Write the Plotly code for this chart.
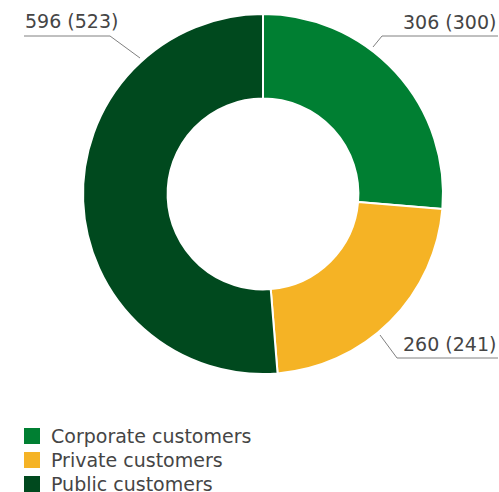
import plotly.graph_objects as go

# Segment data: current year values with previous year in brackets
categories = ["Corporate customers", "Private customers", "Public customers"]
values = [306, 260, 596]
previous = [300, 241, 523]
colors = ["#007f32", "#f5b325", "#00491e"]

W, H = 499, 492
FONT = "DejaVu Sans"
TEXT_COLOR = "#454545"
FONT_SIZE = 19


def px(x):
    return x / W


def py(y):
    return 1 - y / H


fig = go.Figure()

fig.add_trace(go.Pie(
    labels=categories,
    values=values,
    marker=dict(colors=colors, line=dict(color="white", width=2)),
    hole=0.53,
    sort=False,
    direction="clockwise",
    rotation=0,
    textinfo="none",
    hoverinfo="label+value",
    showlegend=False,
    domain=dict(x=[px(263 - 180), px(263 + 180)], y=[py(374), py(14)]),
))

labels = [f"{v} ({p})" for v, p in zip(values, previous)]

# Label placement and leader lines (pixel coordinates)
label_specs = [
    (498, 22, "right", [(373, 47), (382, 36), (498, 36)]),
    (498, 344, "right", [(380, 335), (397, 358), (498, 358)]),
    (23, 21, "left", [(140, 58), (110, 36), (24, 36)]),
]

for text, (tx, ty, anchor, pts) in zip(labels, label_specs):
    fig.add_annotation(
        x=px(tx), y=py(ty), xref="paper", yref="paper",
        text=text, showarrow=False, xanchor=anchor, yanchor="middle",
        font=dict(family=FONT, size=FONT_SIZE, color=TEXT_COLOR),
    )
    path = "M " + " L ".join(f"{px(x)},{py(y)}" for x, y in pts)
    fig.add_shape(type="path", path=path, xref="paper", yref="paper",
                  line=dict(color="#808080", width=1))

# Legend: square swatch plus category name per row
for i, (name, col) in enumerate(zip(categories, colors)):
    top = 428 + 24 * i
    fig.add_shape(type="rect", xref="paper", yref="paper",
                  x0=px(24), x1=px(40), y0=py(top), y1=py(top + 16),
                  fillcolor=col, line=dict(width=0))
    fig.add_annotation(
        x=px(49), y=py(top + 8), xref="paper", yref="paper",
        text=name, showarrow=False, xanchor="left", yanchor="middle",
        font=dict(family=FONT, size=FONT_SIZE, color=TEXT_COLOR),
    )

fig.update_layout(
    width=W, height=H,
    margin=dict(l=0, r=0, t=0, b=0),
    paper_bgcolor="white",
    plot_bgcolor="white",
    showlegend=False,
)

fig.write_html("out.html")
